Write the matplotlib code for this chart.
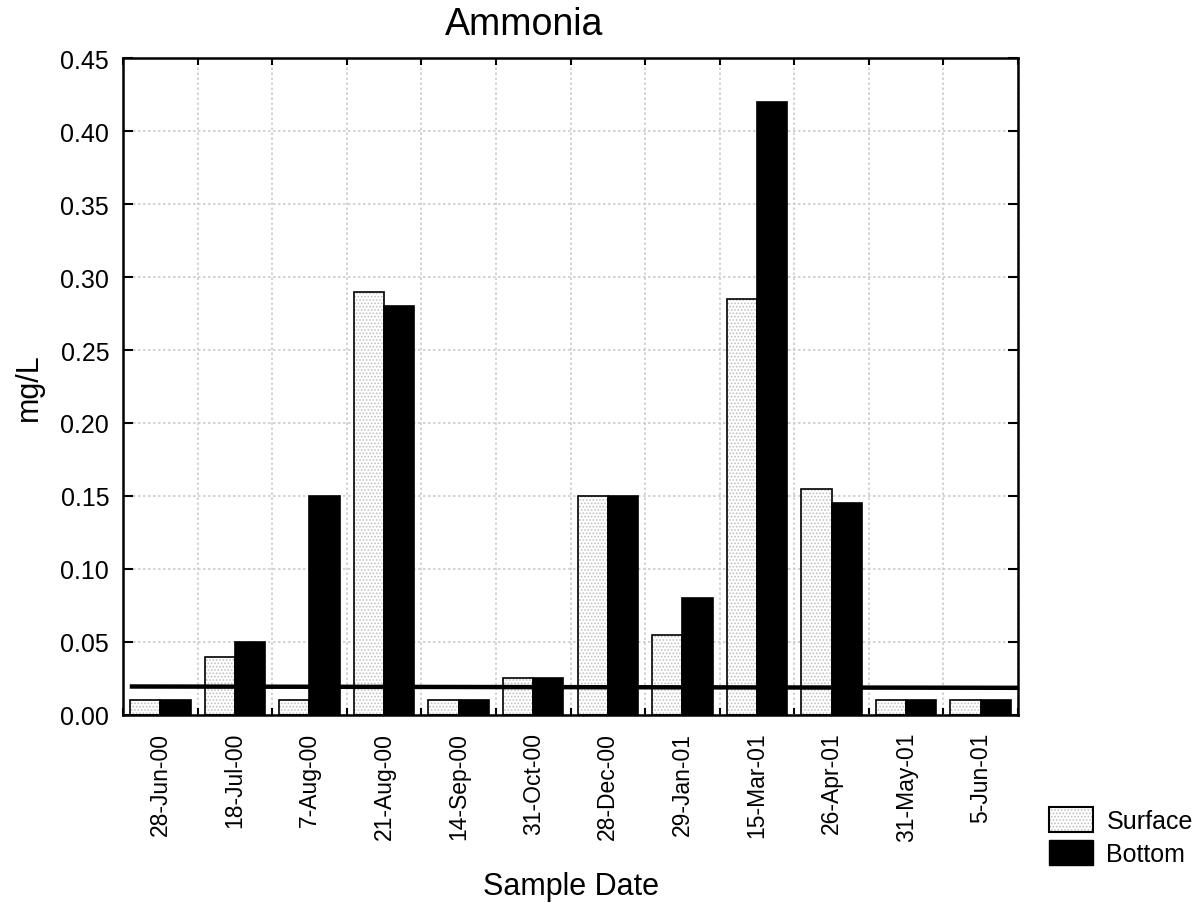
import matplotlib
matplotlib.use("Agg")
import matplotlib.pyplot as plt
import numpy as np
from matplotlib.patches import Patch
from matplotlib.legend_handler import HandlerTuple

plt.rcParams['font.family'] = ['Liberation Sans', 'DejaVu Sans']
plt.rcParams['hatch.linewidth'] = 0.8

dates = ['28-Jun-00', '18-Jul-00', '7-Aug-00', '21-Aug-00', '14-Sep-00', '31-Oct-00',
         '28-Dec-00', '29-Jan-01', '15-Mar-01', '26-Apr-01', '31-May-01', '5-Jun-01']
surface = [0.01, 0.04, 0.01, 0.29, 0.01, 0.025, 0.15, 0.055, 0.285, 0.155, 0.01, 0.01]
bottom = [0.01, 0.05, 0.15, 0.28, 0.01, 0.025, 0.15, 0.08, 0.42, 0.145, 0.01, 0.01]
# reference level line (start / end)
ref_x = [-0.38, 11.5]
ref_y = [0.0195, 0.0186]

fig = plt.figure(figsize=(12.04, 9.04), dpi=100)
ax = fig.add_axes([0.1022, 0.208, 0.7433, 0.7267])

x = np.arange(len(dates))
w = 0.405
# surface bars: light dotted fill, then black outline on top
ax.bar(x - w / 2, surface, w, color='white', edgecolor='#c0c0c0', hatch='.....',
       linewidth=0, zorder=2)
ax.bar(x - w / 2, surface, w, fill=False, edgecolor='black', linewidth=1.2, zorder=3)
ax.bar(x + w / 2, bottom, w, color='black', edgecolor='black', linewidth=1.2, zorder=3)

ax.plot(ref_x, ref_y, color='black', linewidth=3.2, zorder=4)

ax.set_xlim(-0.5, 11.5)
ax.set_ylim(0, 0.45)
ax.set_yticks(np.arange(0, 0.451, 0.05))
ax.set_yticklabels([f'{v:.2f}' for v in np.arange(0, 0.451, 0.05)])
ax.set_xticks(x)
ax.set_xticklabels(dates, rotation=90)
ax.set_xticks(np.arange(-0.5, 12, 1), minor=True)

ax.tick_params(axis='x', which='major', length=0, pad=12, labelsize=16.5)
ax.tick_params(axis='x', which='minor', direction='in', length=5, width=1.5,
               top=True, bottom=True)
ax.tick_params(axis='y', direction='in', length=7, width=1.5, pad=10, labelsize=18,
               left=True, right=True)

ax.grid(True, axis='y', which='major', color='#cccccc', linestyle=(0, (1.5, 1.5)),
        linewidth=1.2, zorder=0)
ax.grid(True, axis='x', which='minor', color='#cccccc', linestyle=(0, (1.5, 1.5)),
        linewidth=1.2, zorder=0)
ax.set_axisbelow(True)

for s in ax.spines.values():
    s.set_linewidth(1.8)
    s.set_zorder(5)

ax.set_xlabel('Sample Date', fontsize=22)
ax.xaxis.set_label_coords(0.5, -0.238)
ax.set_ylabel('mg/L', fontsize=22, labelpad=12)
fig.text(0.435, 0.972, 'Ammonia', fontsize=27, ha='center', va='center')

h_surf = (Patch(facecolor='white', edgecolor='#c0c0c0', hatch='.....', linewidth=0),
          Patch(fill=False, edgecolor='black', linewidth=1.5))
h_bot = Patch(facecolor='black', edgecolor='black')
fig.legend([h_surf, h_bot], ['Surface', 'Bottom'],
           handler_map={tuple: HandlerTuple(ndivide=1)},
           loc='upper left', bbox_to_anchor=(1049 / 1204, 1 - 808 / 904),
           frameon=False, fontsize=18, handlelength=1.75, handleheight=1.15,
           labelspacing=0.3, handletextpad=0.55, borderpad=0, borderaxespad=0)

fig.savefig('out.png', dpi=100)
